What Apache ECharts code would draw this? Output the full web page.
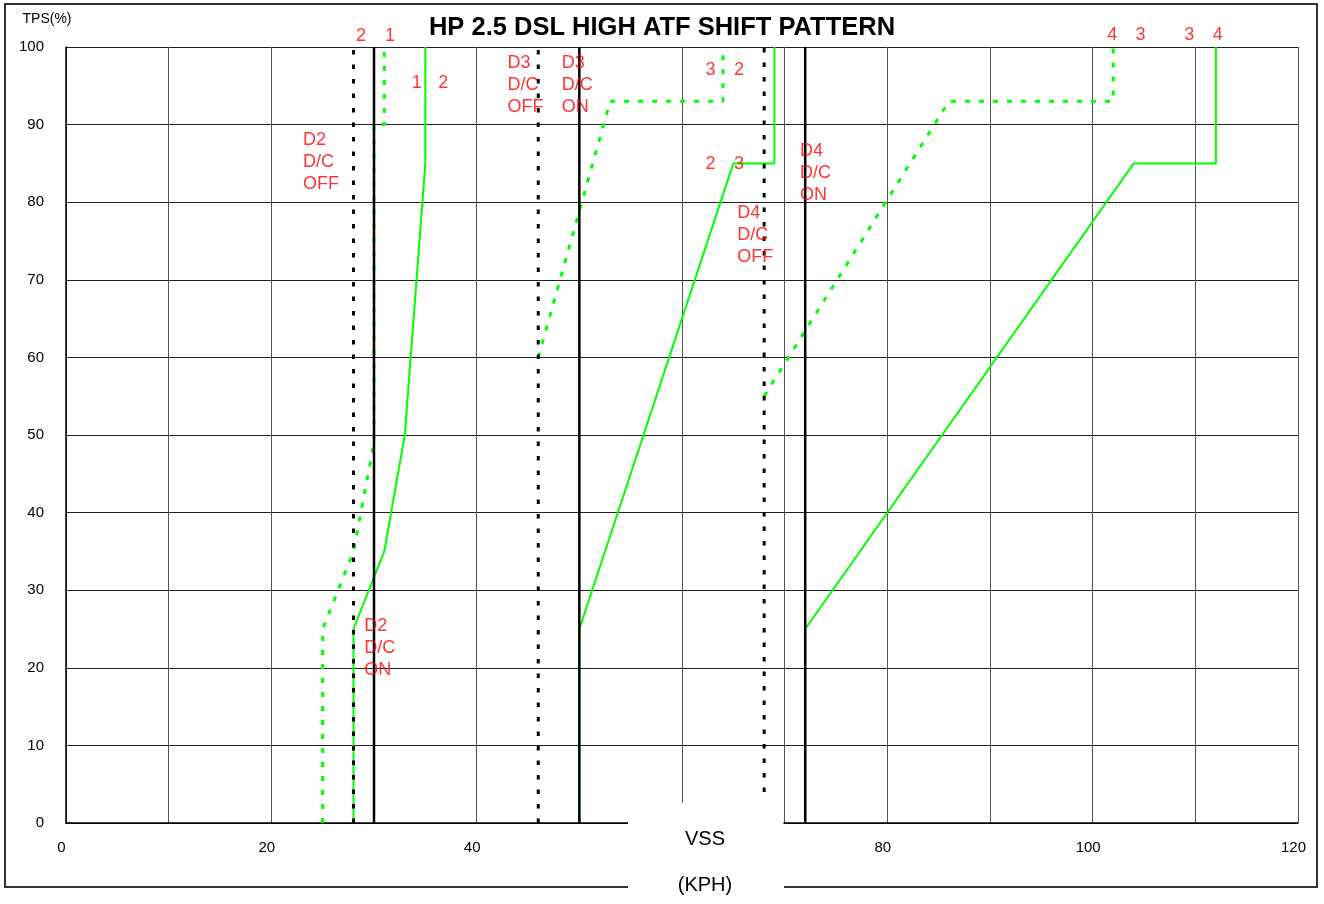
<!DOCTYPE html>
<html><head><meta charset="utf-8">
<script src="https://cdn.jsdelivr.net/npm/echarts@6/dist/echarts.min.js"></script>
<style>html,body{margin:0;padding:0;background:#fff}#c{width:1324px;height:904px}</style>
</head><body><div id="c"></div>
<script>
// ---- data ----
const titleText = 'HP 2.5 DSL HIGH ATF SHIFT PATTERN';
const yAxisTitle = 'TPS(%)';
const xAxisTitle = 'VSS';
const xAxisUnit = '(KPH)';
const xLabelValues = [0, 20, 40, 80, 100, 120];

// upshift lines (solid green) [VSS, TPS]
const up12 = [[28, 0], [28, 25], [31, 35], [33, 50], [35, 85], [35, 100]];
const up23 = [[50, 0], [50, 25], [65, 85], [69, 85], [69, 100]];
const up34 = [[72, 0], [72, 25], [104, 85], [112, 85], [112, 100]];
// downshift lines (dotted green)
const down21 = [[25, 0], [25, 25], [28, 35], [30, 49], [30, 90], [31, 90], [31, 100]];
const down32 = [[46, 60], [53, 93], [64, 93], [64, 100]];
const down43 = [[68, 55], [86, 93], [102, 93], [102, 100]];
// D/C lock-up lines
const dcOnX = [30, 50, 72];               // solid black
const dcOffX = [28, 46, 68];              // dotted black
const dcOffBottom = [0, 0, 4];
// red annotations [VSS, TPS, text]
const annotations = [
  [28.25, 101.4, '2'], [31.07, 101.4, '1'],
  [33.67, 95.4, '1'], [36.26, 95.4, '2'],
  [23.08, 85.2, 'D2\nD/C\nOFF'],
  [29.05, 22.6, 'D2\nD/C\nON'],
  [43.0, 95.1, 'D3\nD/C\nOFF'],
  [48.28, 95.1, 'D3\nD/C\nON'],
  [62.3, 97.0, '3'], [65.06, 97.0, '2'],
  [62.3, 84.9, '2'], [65.06, 84.9, '3'],
  [71.49, 83.8, 'D4\nD/C\nON'],
  [65.38, 75.8, 'D4\nD/C\nOFF'],
  [101.42, 101.5, '4'], [104.18, 101.5, '3'],
  [108.93, 101.5, '3'], [111.69, 101.5, '4']
];

// ---- chart ----
const FONT = "'Liberation Sans', Arial, sans-serif";
const GREEN = '#00ff00';
const series = [];
[up12, up23, up34].forEach(d => series.push({
  type: 'line', data: d, symbol: 'none', z: 3,
  lineStyle: { color: GREEN, width: 2 }
}));
[down21, down32, down43].forEach(d => series.push({
  type: 'line', data: d, symbol: 'none', z: 3,
  lineStyle: { color: GREEN, width: 3, type: [5, 9], cap: 'butt' }
}));
dcOffX.forEach((x, i) => series.push({
  type: 'line', data: [[x, dcOffBottom[i]], [x, 100]], symbol: 'none', z: 4,
  lineStyle: { color: '#000', width: 3, type: [4.5, 10], cap: 'butt' }
}));
dcOnX.forEach(x => series.push({
  type: 'line', data: [[x, 0], [x, 100]], symbol: 'none', z: 4,
  lineStyle: { color: '#000', width: 2.5 }
}));
series.push({
  type: 'scatter', clip: false, symbolSize: 0, z: 6, silent: true,
  data: annotations.map(a => ({ name: a[2], value: [a[0], a[1]] })),
  label: {
    show: true, position: 'inside', formatter: p => p.name,
    align: 'left', verticalAlign: 'middle',
    color: '#ff0000', fontSize: 18, lineHeight: 22, fontFamily: FONT
  }
});

const chart = echarts.init(document.getElementById('c'), null, { renderer: 'canvas' });
chart.setOption({
  animation: false,
  backgroundColor: '#fff',
  title: {
    text: titleText, left: 'center', top: 15, padding: 0,
    textStyle: { fontSize: 25.5, fontWeight: 'bold', color: '#000', fontFamily: FONT }
  },
  grid: { left: 66, right: 26, top: 47, bottom: 81, containLabel: false },
  xAxis: {
    type: 'value', min: 0, max: 120, interval: 10,
    axisLine: { show: true, onZero: false, lineStyle: { color: '#000', width: 1.5 } },
    axisTick: { show: false },
    splitLine: { show: true, lineStyle: { color: '#555', width: 1 } },
    axisLabel: {
      margin: 17, fontSize: 15, color: '#000', fontFamily: FONT, padding: [0, 9, 0, 0],
      formatter: v => xLabelValues.includes(v) ? String(v) : ''
    }
  },
  yAxis: {
    type: 'value', min: 0, max: 100, interval: 10,
    axisLine: { show: true, onZero: false, lineStyle: { color: '#000', width: 1.5 } },
    axisTick: { show: false },
    splitLine: { show: true, lineStyle: { color: '#222', width: 1 } },
    axisLabel: { margin: 22, fontSize: 15, color: '#000', fontFamily: FONT, padding: [3, 0, 0, 0] }
  },
  graphic: [
    { type: 'polyline', z: 100, silent: true,
      shape: { points: [[628, 887], [5, 887], [5, 4], [1317, 4], [1317, 887], [784, 887]] },
      style: { stroke: '#333', lineWidth: 2, fill: null } },
    { type: 'rect', z: 100, silent: true,
      shape: { x: 628, y: 803, width: 155.5, height: 101 },
      style: { fill: '#fff' } },
    { type: 'text', z: 101, x: 705, y: 839, silent: true,
      style: { text: xAxisTitle, font: '20px ' + FONT, fill: '#000', textAlign: 'center', textVerticalAlign: 'middle' } },
    { type: 'text', z: 101, x: 705, y: 885, silent: true,
      style: { text: xAxisUnit, font: '20px ' + FONT, fill: '#000', textAlign: 'center', textVerticalAlign: 'middle' } },
    { type: 'text', z: 101, x: 47, y: 19, silent: true,
      style: { text: yAxisTitle, font: "14px 'Liberation Sans Narrow', " + FONT, fill: '#000', textAlign: 'center', textVerticalAlign: 'middle' } }
  ],
  series: series
});
</script></body></html>
